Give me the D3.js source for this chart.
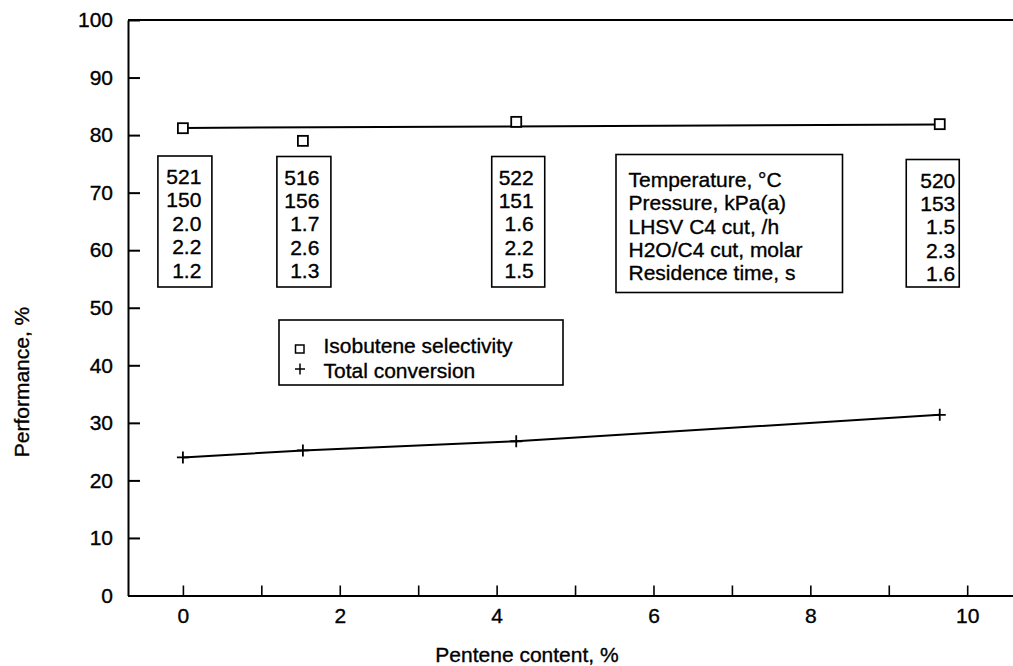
<!DOCTYPE html>
<html>
<head>
<meta charset="utf-8">
<script src="https://cdn.jsdelivr.net/npm/d3@7"></script>
<style>
  html, body { margin: 0; padding: 0; background: #fff; }
  svg { display: block; font-family: "Liberation Sans", Arial, sans-serif; }
  svg text { fill: #000; stroke: #000; stroke-width: 0.35px; }
</style>
</head>
<body>
<svg id="chart" width="1013" height="666"></svg>
<script>
// Pentene content of the C4 feed (%)
const penteneContent = [0, 1.53, 4.25, 9.65];
// Isobutene selectivity (%)
const selectivity = [81.2, 79.0, 82.3, 81.9];
// Trend line through the selectivity results (end points)
const selectivityTrend = [[0, 81.25], [9.65, 81.85]];
// Total conversion (%)
const conversion = [24.0, 25.2, 26.8, 31.4];

// Operating conditions for each run
const conditionNames = [
  "Temperature, \u00B0C",
  "Pressure, kPa(a)",
  "LHSV C4 cut, /h",
  "H2O/C4 cut, molar",
  "Residence time, s"
];
const temperature = ["521", "516", "522", "520"];
const pressure = ["150", "156", "151", "153"];
const lhsv = ["2.0", "1.7", "1.6", "1.5"];
const waterRatio = ["2.2", "2.6", "2.2", "2.3"];
const residenceTime = ["1.2", "1.3", "1.5", "1.6"];

const xTicks = [0, 1, 2, 3, 4, 5, 6, 7, 8, 9, 10];
const yTicks = [0, 10, 20, 30, 40, 50, 60, 70, 80, 90, 100];

const svg = d3.select("#chart");
const W = 1013;
const FONT = 21;

const x = d3.scaleLinear().domain([-0.7, 10.8]).range([128, 128 + 11.5 * 78.43]);
const y = d3.scaleLinear().domain([0, 100]).range([595.5, 20]);

// frame: top border
svg.append("line")
  .attr("x1", x(-0.7)).attr("x2", W)
  .attr("y1", y(100)).attr("y2", y(100))
  .attr("stroke", "#000").attr("stroke-width", 2);

// y axis
const yAxis = svg.append("g")
  .attr("transform", `translate(${x(-0.7)},0)`)
  .call(d3.axisLeft(y).tickValues(yTicks).tickSizeInner(-12).tickSizeOuter(0).tickPadding(15));
yAxis.select(".domain").attr("stroke-width", 2);
yAxis.selectAll(".tick line").attr("stroke-width", 2);
yAxis.selectAll(".tick text").attr("font-size", FONT)
  .attr("font-family", "Liberation Sans, Arial, sans-serif");

// x axis
const xAxis = svg.append("g")
  .attr("transform", `translate(0,${y(0)})`)
  .call(d3.axisBottom(x).tickValues(xTicks).tickSizeInner(-10).tickSizeOuter(0).tickPadding(13)
    .tickFormat(d => d % 2 === 0 ? d : ""));
xAxis.select(".domain").attr("stroke-width", 2);
xAxis.selectAll(".tick line").attr("stroke-width", 1.6);
xAxis.selectAll(".tick text").attr("font-size", FONT)
  .attr("font-family", "Liberation Sans, Arial, sans-serif");

// axis titles
svg.append("text")
  .attr("x", 527).attr("y", 662)
  .attr("text-anchor", "middle").attr("font-size", FONT)
  .text("Pentene content, %");
svg.append("text")
  .attr("transform", `translate(29,382) rotate(-90)`)
  .attr("text-anchor", "middle").attr("font-size", FONT)
  .text("Performance, %");

// selectivity trend line and markers
const line = d3.line().x(d => x(d[0])).y(d => y(d[1]));
svg.append("path")
  .attr("d", line(selectivityTrend))
  .attr("fill", "none").attr("stroke", "#000").attr("stroke-width", 2);

const sq = 10;
svg.selectAll("rect.sel")
  .data(penteneContent.map((p, i) => [p, selectivity[i]]))
  .join("rect")
  .attr("class", "sel")
  .attr("x", d => x(d[0]) - sq / 2).attr("y", d => y(d[1]) - sq / 2)
  .attr("width", sq).attr("height", sq)
  .attr("fill", "#fff").attr("stroke", "#000").attr("stroke-width", 1.8);

// conversion line and plus markers
const convPts = penteneContent.map((p, i) => [p, conversion[i]]);
svg.append("path")
  .attr("d", line(convPts))
  .attr("fill", "none").attr("stroke", "#000").attr("stroke-width", 2);

svg.selectAll("path.conv")
  .data(convPts)
  .join("path")
  .attr("class", "conv")
  .attr("d", d => `M${x(d[0]) - 6},${y(d[1])}h12M${x(d[0])},${y(d[1]) - 6}v12`)
  .attr("stroke", "#000").attr("stroke-width", 1.8);

// condition boxes above each run
const boxLayout = [
  { dx: 2, w: 54, top: 156, pad: 10.5 },
  { dx: 1, w: 54, top: 156.5, pad: 11.5 },
  { dx: 2, w: 53, top: 156.5, pad: 11 },
  { dx: -7, w: 53, top: 159.5, pad: 4 }
];
const boxBottom = 287;
const lineGap = 23.4;

penteneContent.forEach((p, i) => {
  const L = boxLayout[i];
  const cx = x(p) + L.dx;
  const left = cx - L.w / 2;
  const g = svg.append("g");
  g.append("rect")
    .attr("x", left).attr("y", L.top)
    .attr("width", L.w).attr("height", boxBottom - L.top)
    .attr("fill", "none").attr("stroke", "#000").attr("stroke-width", 1.6);
  const vals = [temperature[i], pressure[i], lhsv[i], waterRatio[i], residenceTime[i]];
  g.selectAll("text").data(vals).join("text")
    .attr("x", left + L.w - L.pad)
    .attr("y", (d, k) => L.top + 28 + k * lineGap)
    .attr("text-anchor", "end").attr("font-size", FONT)
    .text(d => d);
});

// box naming the conditions
const nameBox = svg.append("g");
nameBox.append("rect")
  .attr("x", 616).attr("y", 154.5).attr("width", 226.5).attr("height", 138)
  .attr("fill", "none").attr("stroke", "#000").attr("stroke-width", 1.6);
nameBox.selectAll("text").data(conditionNames).join("text")
  .attr("x", 628.5).attr("y", (d, k) => 186.7 + k * lineGap)
  .attr("font-size", FONT)
  .text(d => d);

// legend
const legend = svg.append("g");
legend.append("rect")
  .attr("x", 279).attr("y", 320).attr("width", 284).attr("height", 65)
  .attr("fill", "none").attr("stroke", "#000").attr("stroke-width", 1.6);
legend.append("rect")
  .attr("x", 295.5).attr("y", 345).attr("width", 8.5).attr("height", 8)
  .attr("fill", "#fff").attr("stroke", "#000").attr("stroke-width", 1.5);
legend.append("path")
  .attr("d", "M295,369h10M300,363.5v11")
  .attr("stroke", "#000").attr("stroke-width", 1.5);
legend.append("text").attr("x", 323.5).attr("y", 353)
  .attr("font-size", FONT).text("Isobutene selectivity");
legend.append("text").attr("x", 323.5).attr("y", 378)
  .attr("font-size", FONT).text("Total conversion");
</script>
</body>
</html>
